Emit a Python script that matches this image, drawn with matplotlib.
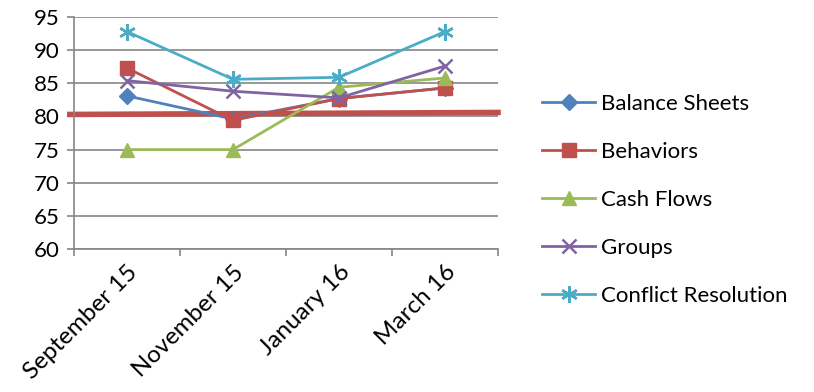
import numpy as np
import matplotlib
matplotlib.use("Agg")
import matplotlib.pyplot as plt
from matplotlib.ticker import FixedLocator, MultipleLocator

plt.rcParams['font.family'] = ['Lato', 'DejaVu Sans']
plt.rcParams['font.size'] = 16

months = ["September 15", "November 15", "January 16", "March 16"]
balance_sheets = [83.1, 79.6, 82.7, 84.3]
behaviors = [87.3, 79.4, 82.7, 84.3]
cash_flows = [75.0, 75.0, 84.4, 85.8]
groups = [85.4, 83.8, 82.8, 87.6]
conflict_resolution = [92.8, 85.6, 85.9, 92.8]
target_line = [80.3, 80.6]  # thick red reference line, left and right end

series = [
    ("Balance Sheets", balance_sheets, "#4F81BD", "D", 8.5),
    ("Behaviors", behaviors, "#C0504D", "s", 10.5),
    ("Cash Flows", cash_flows, "#9BBB59", "^", 10.5),
    ("Groups", groups, "#8064A2", "x", 10),
    ("Conflict Resolution", conflict_resolution, "#4BACC6", (6, 2, 0), 12),
]

fig = plt.figure(figsize=(8.14, 3.92), dpi=100)
ax = fig.add_axes([74 / 814, 1 - 249 / 392, 424 / 814, 232 / 392])

x = np.arange(len(months))
for name, vals, col, mk, ms in series:
    ax.plot(x, vals, color=col, lw=2, marker=mk, markersize=ms,
            markeredgewidth=1.8 if mk in ("x", (6, 2, 0)) else 1,
            markeredgecolor=col, label=name, zorder=3)

ax.plot([-0.01, 1.0], target_line, color="#C0504D", lw=4,
        transform=ax.get_yaxis_transform(), clip_on=False, zorder=2)

ax.set_xlim(-0.5, len(months) - 0.5)
ax.set_ylim(60, 95)
ax.yaxis.set_major_locator(MultipleLocator(5))
ax.grid(axis="y", color="#868686", lw=1.2)
ax.set_axisbelow(True)

ax.set_xticks(x)
ax.set_xticklabels(months, rotation=45, ha="right", rotation_mode="anchor", fontsize=17.5)
ax.tick_params(axis="x", which="major", length=0, pad=9)
ax.xaxis.set_minor_locator(FixedLocator(np.arange(-0.5, len(months), 1.0)))
ax.tick_params(axis="x", which="minor", length=5, color="#868686", width=1.2)
ax.tick_params(axis="y", length=5, color="#868686", width=1.2, labelsize=16, pad=5)

for s in ["top", "right"]:
    ax.spines[s].set_visible(False)
for s in ["left", "bottom"]:
    ax.spines[s].set_color("#868686")
    ax.spines[s].set_linewidth(1.2)

fig.legend(loc="center left", bbox_to_anchor=(531 / 814, 1 - 200 / 392),
           frameon=False, fontsize=16, handlelength=2.4, labelspacing=1.26,
           handletextpad=0.25, borderpad=0)

fig.savefig("out.png", dpi=100)
